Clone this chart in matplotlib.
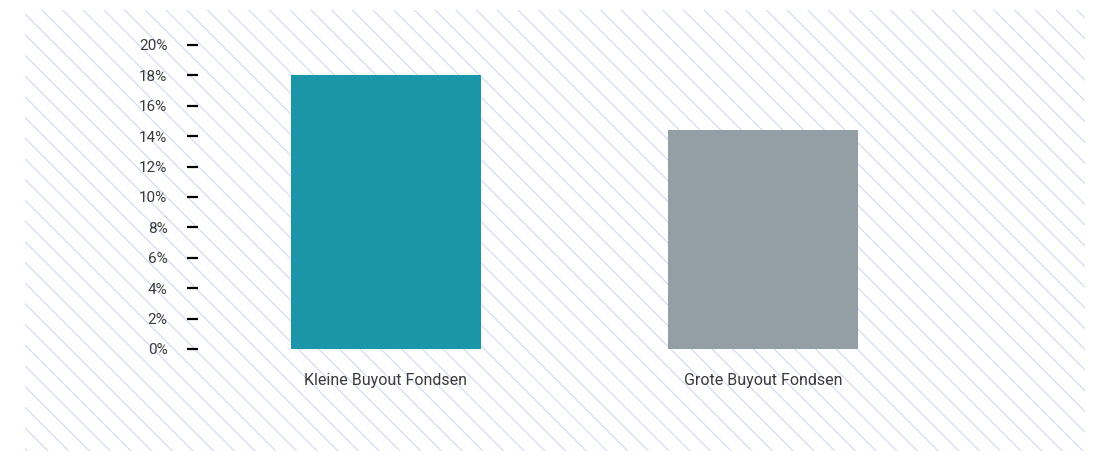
import matplotlib.pyplot as plt
import numpy as np

# data
categories = ["Kleine Buyout Fondsen", "Grote Buyout Fondsen"]
values = [18.0, 14.4]
colors = ["#1b96a9", "#939fa4"]
yticks = [0, 2, 4, 6, 8, 10, 12, 14, 16, 18, 20]

plt.rcParams['font.family'] = ['Roboto', 'DejaVu Sans']

W, H = 1096, 451
fig = plt.figure(figsize=(W / 100, H / 100), dpi=100)

# hatched background (diagonal light blue lines)
bx0, by0, bx1, by1 = 25, 10, 1085, 451
bg = fig.add_axes([bx0 / W, 1 - by1 / H, (bx1 - bx0) / W, (by1 - by0) / H])
bw, bh = bx1 - bx0, by1 - by0
bg.set_xlim(0, bw)
bg.set_ylim(bh, 0)
bg.axis('off')
for c in np.arange(2.7 - bh - 21, bw + 21, 20.7):
    bg.plot([c, c + bh], [0, bh], color="#ccd7f0", lw=0.75, clip_on=True)

# bar chart
ax = fig.add_axes([198 / W, 1 - 349 / H, (1085 - 198) / W, (349 - 45) / H])
ax.patch.set_alpha(0)
x = np.arange(len(categories))
ax.bar(x, values, width=0.503, color=colors)
ax.set_xlim(-0.498, 1.852)
ax.set_ylim(0, 20)
ax.set_yticks(yticks)
ax.set_yticklabels([f"{v}%" for v in yticks], color="#3a3a3a", fontsize=11)
ax.tick_params(axis='y', length=8, width=1.6, color="black", pad=14)
ax.set_xticks(x)
ax.set_xticklabels(categories, color="#3a3a3a", fontsize=11.5)
ax.tick_params(axis='x', length=0, pad=17)
for s in ax.spines.values():
    s.set_visible(False)

fig.savefig("out.png", dpi=100)
